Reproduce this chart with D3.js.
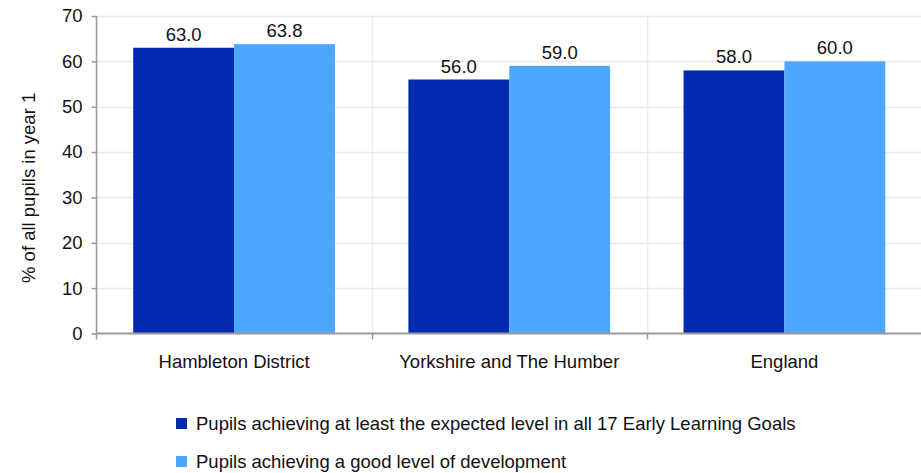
<!DOCTYPE html>
<html><head><meta charset="utf-8">
<script src="https://cdn.jsdelivr.net/npm/d3@7"></script>
<style>body{margin:0;background:#fff}svg{display:block;font-family:"Liberation Sans",Arial,sans-serif}</style>
</head><body><svg id="c" width="921" height="473"></svg>
<script>
const categories = ["Hambleton District", "Yorkshire and The Humber", "England"];
const seriesNames = ["Pupils achieving at least the expected level in all 17 Early Learning Goals", "Pupils achieving a good level of development"];
const seriesExpected = [63.0, 56.0, 58.0];
const seriesGood = [63.8, 59.0, 60.0];
const yTicks = [0, 10, 20, 30, 40, 50, 60, 70];
const colors = ["#002BB0", "#4DA6FF"];

const FS = 18.5;
const svg = d3.select("#c");
const L = 96.5, R = 922, T = 16, B = 333.5;
const x0 = d3.scaleBand().domain(categories).range([L, R]).padding(0);
const x1 = d3.scaleBand().domain([0, 1]).range([0, x0.bandwidth()]).paddingInner(0).paddingOuter(0.364);
const y = d3.scaleLinear().domain([0, 70]).range([B, T]);

// gridlines
svg.append("g").selectAll("line").data(yTicks.filter(d => d > 0)).join("line")
  .attr("x1", L).attr("x2", 921).attr("y1", d => Math.round(y(d)) + 0.5).attr("y2", d => Math.round(y(d)) + 0.5)
  .attr("stroke", "#ebebeb").attr("stroke-width", 1.5);
svg.append("g").selectAll("line").data(categories.slice(1)).join("line")
  .attr("x1", d => Math.round(x0(d)) + 0.5).attr("x2", d => Math.round(x0(d)) + 0.5)
  .attr("y1", T).attr("y2", B)
  .attr("stroke", "#ebebeb").attr("stroke-width", 1.5);

// bars
const data = categories.map((c, i) => ({c, v: [seriesExpected[i], seriesGood[i]]}));
const g = svg.append("g").selectAll("g").data(data).join("g").attr("transform", d => `translate(${x0(d.c)},0)`);
g.selectAll("rect").data(d => d.v.map((v, k) => ({v, k}))).join("rect")
  .attr("x", d => x1(d.k)).attr("width", x1.bandwidth())
  .attr("y", d => y(d.v)).attr("height", d => B - y(d.v))
  .attr("fill", d => colors[d.k]);
g.selectAll("text").data(d => d.v.map((v, k) => ({v, k}))).join("text")
  .attr("x", d => x1(d.k) + x1.bandwidth() / 2).attr("y", d => y(d.v) - 7)
  .attr("text-anchor", "middle").attr("font-size", FS).attr("fill", "#111")
  .text(d => d.v.toFixed(1));

// y axis
const yAxis = svg.append("g").attr("transform", `translate(${L},0)`)
  .call(d3.axisLeft(y).tickValues(yTicks).tickSize(5).tickPadding(9).tickFormat(d3.format("d")));
yAxis.select(".domain").attr("stroke", "#999").attr("stroke-width", 1.5).attr("d", `M0,${T}V${B + 6}`);
yAxis.selectAll(".tick line").attr("stroke", "#999").attr("stroke-width", 1.5);
yAxis.selectAll(".tick text").attr("font-size", FS).attr("fill", "#111").attr("font-family", "Liberation Sans, Arial, sans-serif");

// x axis
const xAxis = svg.append("g").attr("transform", `translate(0,${B})`)
  .call(d3.axisBottom(x0).tickSize(0).tickPadding(21));
xAxis.select(".domain").attr("stroke", "#999").attr("stroke-width", 2).attr("d", `M${L},0H921`);
xAxis.selectAll(".tick text").attr("font-size", FS).attr("fill", "#111").attr("font-family", "Liberation Sans, Arial, sans-serif");
svg.append("g").selectAll("line").data(categories.slice(1)).join("line")
  .attr("x1", d => Math.round(x0(d)) + 0.5).attr("x2", d => Math.round(x0(d)) + 0.5)
  .attr("y1", B).attr("y2", B + 6).attr("stroke", "#999").attr("stroke-width", 1.5);

// y label
svg.append("text").attr("transform", `translate(35,283) rotate(-90)`)
  .attr("text-anchor", "start").attr("font-size", FS).attr("fill", "#111")
  .text("% of all pupils in year 1");

// legend
const lg = svg.append("g").selectAll("g").data(seriesNames).join("g")
  .attr("transform", (d, i) => `translate(176,${418 + i * 38})`);
lg.append("rect").attr("width", 11).attr("height", 11).attr("fill", (d, i) => colors[i]);
lg.append("text").attr("x", 20).attr("y", 12).attr("font-size", FS).attr("fill", "#111").text(d => d);
</script></body></html>
